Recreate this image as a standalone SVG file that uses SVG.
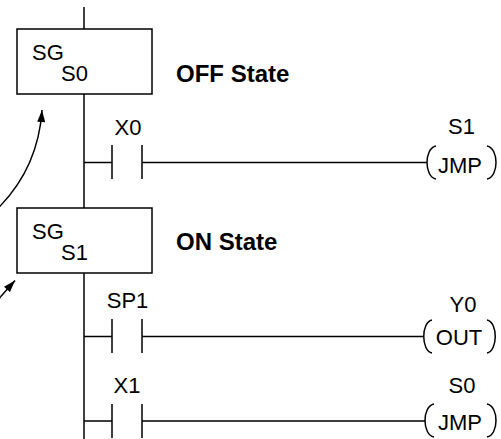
<svg xmlns="http://www.w3.org/2000/svg" width="501" height="439" viewBox="0 0 501 439">
<style>
.ln{stroke:#000;stroke-width:1.5;fill:none}
.bx{stroke:#000;stroke-width:1.5;fill:#fff}
.t{font-family:"Liberation Sans",Arial,sans-serif;font-size:22px;fill:#000}
.b{font-family:"Liberation Sans",Arial,sans-serif;font-size:24px;font-weight:bold;fill:#000}
.m{text-anchor:middle}
</style>
<defs>
<marker id="ah" viewBox="0 0 12 8" refX="12" refY="4" markerWidth="13" markerHeight="8" markerUnits="userSpaceOnUse" orient="auto">
<path d="M0 0 L12 4 L0 8 Z" fill="#000"/>
</marker>
</defs>
<g id="connectors">
<line class="ln" x1="84" y1="7" x2="84" y2="439"/>
<path class="ln" d="M84 162.5 H112 M142 162.5 H427"/>
<path class="ln" d="M84 336.5 H112 M142 336.5 H424"/>
<path class="ln" d="M84 421 H112 M142 421 H425"/>
<path class="ln" d="M-8 214 Q38 172 42 110" marker-end="url(#ah)"/>
<path class="ln" d="M-6 304 L15 280.5" marker-end="url(#ah)"/>
</g>
<g id="sg0">
<rect class="bx" x="17" y="29" width="135" height="65"/>
<text class="t" x="32" y="60">SG</text>
<text class="t" x="61" y="81">S0</text>
</g>
<g id="off-label"><text class="b" x="176" y="82">OFF State</text></g>
<g id="x0">
<path class="ln" d="M112 145 V179 M142 145 V179"/>
<text class="t m" x="128" y="135">X0</text>
</g>
<g id="jmp-s1">
<path class="ln" d="M436 146 C424 148 424 177 436 179 M487 146 C499 148 499 177 487 179"/>
<text class="t m" x="461.5" y="134">S1</text>
<text class="t m" x="460" y="173">JMP</text>
</g>
<g id="sg1">
<rect class="bx" x="17" y="208" width="135" height="65"/>
<text class="t" x="32" y="239">SG</text>
<text class="t" x="61" y="260">S1</text>
</g>
<g id="on-label"><text class="b" x="176" y="250">ON State</text></g>
<g id="sp1">
<path class="ln" d="M112 319 V353 M142 319 V353"/>
<text class="t m" x="127.5" y="308">SP1</text>
</g>
<g id="out-y0">
<path class="ln" d="M432 320 C421 322 421 351 432 353 M487 320 C498 322 498 351 487 353"/>
<text class="t m" x="463" y="312">Y0</text>
<text class="t m" x="459" y="345">OUT</text>
</g>
<g id="x1">
<path class="ln" d="M112 404 V438 M142 404 V438"/>
<text class="t m" x="127" y="393">X1</text>
</g>
<g id="jmp-s0">
<path class="ln" d="M434 404 C422 406 422 435 434 437 M487 404 C499 406 499 435 487 437"/>
<text class="t m" x="462" y="393">S0</text>
<text class="t m" x="460" y="430">JMP</text>
</g>
</svg>
